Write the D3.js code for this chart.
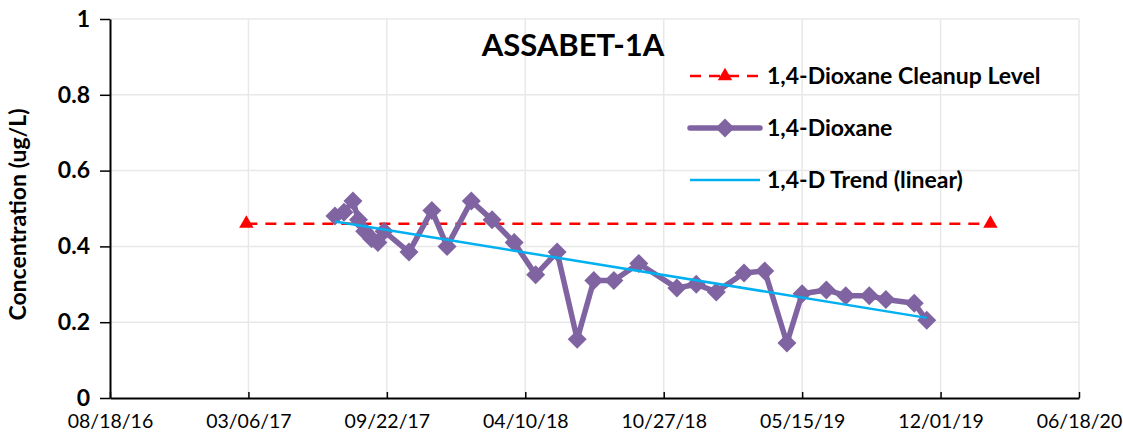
<!DOCTYPE html>
<html>
<head>
<meta charset="utf-8">
<script src="https://cdn.jsdelivr.net/npm/d3@7"></script>
<style>
body { margin: 0; background: #fff; }
text { font-family: Lato, "Liberation Sans", sans-serif; }
</style>
</head>
<body>
<svg id="chart"></svg>
<script>
"use strict";

var width = 1123,
    height = 442;

// sample dates and 1,4-Dioxane results (ug/L)
var sampleDates = ["07/09/17", "07/22/17", "08/04/17", "08/12/17", "08/21/17", "08/31/17", "09/09/17", "09/18/17",
    "10/24/17", "11/26/17", "12/18/17", "01/22/18", "02/21/18", "03/25/18", "04/25/18", "05/26/18",
    "06/24/18", "07/18/18", "08/16/18", "09/21/18", "11/15/18", "12/13/18", "01/11/19", "02/20/19",
    "03/22/19", "04/23/19", "05/15/19", "06/19/19", "07/17/19", "08/20/19", "09/13/19", "10/24/19", "11/11/19"];
var dioxane = [0.48, 0.49, 0.52, 0.47, 0.44, 0.42, 0.41, 0.44,
    0.385, 0.495, 0.40, 0.52, 0.47, 0.41, 0.325, 0.385,
    0.155, 0.31, 0.31, 0.355, 0.29, 0.30, 0.28, 0.33,
    0.335, 0.145, 0.275, 0.285, 0.27, 0.27, 0.26, 0.25, 0.205];

var cleanupDates = ["03/03/17", "02/11/20"];
var cleanupLevel = [0.46, 0.46];

var xTickLabels = ["08/18/16", "03/06/17", "09/22/17", "04/10/18", "10/27/18", "05/15/19", "12/01/19", "06/18/20"];
var yTickValues = [0, 0.2, 0.4, 0.6, 0.8, 1];

var parse = d3.timeParse("%m/%d/%y"),
    fmt = d3.timeFormat("%m/%d/%y");

var data = sampleDates.map(function (d, i) { return { date: parse(d), value: dioxane[i] }; });
var cleanup = cleanupDates.map(function (d, i) { return { date: parse(d), value: cleanupLevel[i] }; });
var xTicks = xTickLabels.map(parse);

var margin = { left: 110, right: width - 1079, top: 19, bottom: height - 398 };

var x = d3.scaleTime()
    .domain([xTicks[0], xTicks[xTicks.length - 1]])
    .range([margin.left, width - margin.right]);

var y = d3.scaleLinear()
    .domain([0, 1])
    .range([height - margin.bottom, margin.top]);

var svg = d3.select("#chart")
    .attr("width", width)
    .attr("height", height);

// gridlines
svg.append("g")
    .selectAll("line.hgrid")
    .data(yTickValues.slice(1))
    .enter().append("line")
    .attr("x1", x.range()[0]).attr("x2", x.range()[1])
    .attr("y1", function (d) { return y(d); })
    .attr("y2", function (d) { return y(d); })
    .attr("stroke", "#e8e8e8")
    .attr("stroke-width", 1.5);

svg.append("g")
    .selectAll("line.vgrid")
    .data(xTicks.slice(1))
    .enter().append("line")
    .attr("x1", function (d) { return x(d); })
    .attr("x2", function (d) { return x(d); })
    .attr("y1", y.range()[0]).attr("y2", y.range()[1])
    .attr("stroke", "#e8e8e8")
    .attr("stroke-width", 1.5);

// axes
var xAxis = svg.append("g")
    .attr("transform", "translate(0," + y(0) + ")")
    .call(d3.axisBottom(x)
        .tickValues(xTicks)
        .tickFormat(fmt)
        .tickSizeInner(-6)
        .tickSizeOuter(0)
        .tickPadding(16));
xAxis.selectAll("text")
    .attr("font-size", 19.5)
    .attr("fill", "#000");
xAxis.selectAll("line").attr("stroke", "#000").attr("stroke-width", 1.5);
xAxis.select(".domain").attr("stroke", "#000").attr("stroke-width", 2);

var yAxis = svg.append("g")
    .attr("transform", "translate(" + x.range()[0] + ",0)")
    .call(d3.axisLeft(y)
        .tickValues(yTickValues)
        .tickFormat(d3.format("~g"))
        .tickSizeInner(10)
        .tickSizeOuter(0)
        .tickPadding(10));
yAxis.selectAll("text")
    .attr("font-size", 23)
    .attr("font-weight", "bold")
    .attr("fill", "#000");
yAxis.selectAll("line").attr("stroke", "#000").attr("stroke-width", 1.5);
yAxis.select(".domain").attr("stroke", "#000").attr("stroke-width", 2);

svg.append("text")
    .attr("transform", "translate(26," + ((y(0) + y(1)) / 2 + 6) + ") rotate(-90)")
    .attr("text-anchor", "middle")
    .attr("font-size", 23)
    .attr("font-weight", "bold")
    .text("Concentration (ug/L)");

// title
svg.append("text")
    .attr("x", 573)
    .attr("y", 56)
    .attr("text-anchor", "middle")
    .attr("font-size", 31)
    .attr("font-weight", "bold")
    .text("ASSABET-1A");

// linear trend (least squares on date)
var n = data.length,
    xs = data.map(function (d) { return +d.date; }),
    mx = d3.mean(xs),
    my = d3.mean(dioxane),
    sxy = d3.sum(xs, function (v, i) { return (v - mx) * (dioxane[i] - my); }),
    sxx = d3.sum(xs, function (v) { return (v - mx) * (v - mx); }),
    slope = sxy / sxx,
    icpt = my - slope * mx;
var trend = [data[0].date, data[n - 1].date].map(function (d) { return { date: d, value: icpt + slope * d }; });

var line = d3.line()
    .x(function (d) { return x(d.date); })
    .y(function (d) { return y(d.value); });

var diamond = d3.symbol().type(d3.symbolDiamond2).size(230);
var triangle = d3.symbol().type(d3.symbolTriangle).size(90);

// cleanup level
svg.append("path")
    .datum(cleanup)
    .attr("d", line)
    .attr("fill", "none")
    .attr("stroke", "#ff0000")
    .attr("stroke-width", 2.5)
    .attr("stroke-dasharray", "11,8");
svg.append("g")
    .selectAll("path")
    .data(cleanup)
    .enter().append("path")
    .attr("d", triangle)
    .attr("transform", function (d) { return "translate(" + x(d.date) + "," + y(d.value) + ")"; })
    .attr("fill", "#ff0000");

// 1,4-Dioxane series
svg.append("path")
    .datum(data)
    .attr("d", line)
    .attr("fill", "none")
    .attr("stroke", "#8064a2")
    .attr("stroke-width", 5.5)
    .attr("stroke-linejoin", "round");
svg.append("g")
    .selectAll("path")
    .data(data)
    .enter().append("path")
    .attr("d", diamond)
    .attr("transform", function (d) { return "translate(" + x(d.date) + "," + y(d.value) + ")"; })
    .attr("fill", "#8064a2");

// trend
svg.append("path")
    .datum(trend)
    .attr("d", line)
    .attr("fill", "none")
    .attr("stroke", "#00b0f0")
    .attr("stroke-width", 2.5);

// legend
var legend = svg.append("g").attr("transform", "translate(690,0)");
var rows = [
    { label: "1,4-Dioxane Cleanup Level", y: 76 },
    { label: "1,4-Dioxane", y: 128 },
    { label: "1,4-D Trend (linear)", y: 180 }
];

legend.append("line")
    .attr("x1", 0).attr("x2", 70)
    .attr("y1", rows[0].y).attr("y2", rows[0].y)
    .attr("stroke", "#ff0000").attr("stroke-width", 2.5)
    .attr("stroke-dasharray", "11,8");
legend.append("path")
    .attr("d", triangle)
    .attr("transform", "translate(35," + rows[0].y + ")")
    .attr("fill", "#ff0000");

legend.append("line")
    .attr("x1", 0).attr("x2", 70)
    .attr("y1", rows[1].y).attr("y2", rows[1].y)
    .attr("stroke", "#8064a2").attr("stroke-width", 5.5)
    .attr("stroke-linecap", "round");
legend.append("path")
    .attr("d", diamond)
    .attr("transform", "translate(35," + rows[1].y + ")")
    .attr("fill", "#8064a2");

legend.append("line")
    .attr("x1", 0).attr("x2", 70)
    .attr("y1", rows[2].y).attr("y2", rows[2].y)
    .attr("stroke", "#00b0f0").attr("stroke-width", 2.5);

legend.selectAll("text")
    .data(rows)
    .enter().append("text")
    .attr("x", 77)
    .attr("y", function (d) { return d.y; })
    .attr("dy", "0.35em")
    .attr("font-size", 23)
    .attr("font-weight", "bold")
    .text(function (d) { return d.label; });
</script>
</body>
</html>
